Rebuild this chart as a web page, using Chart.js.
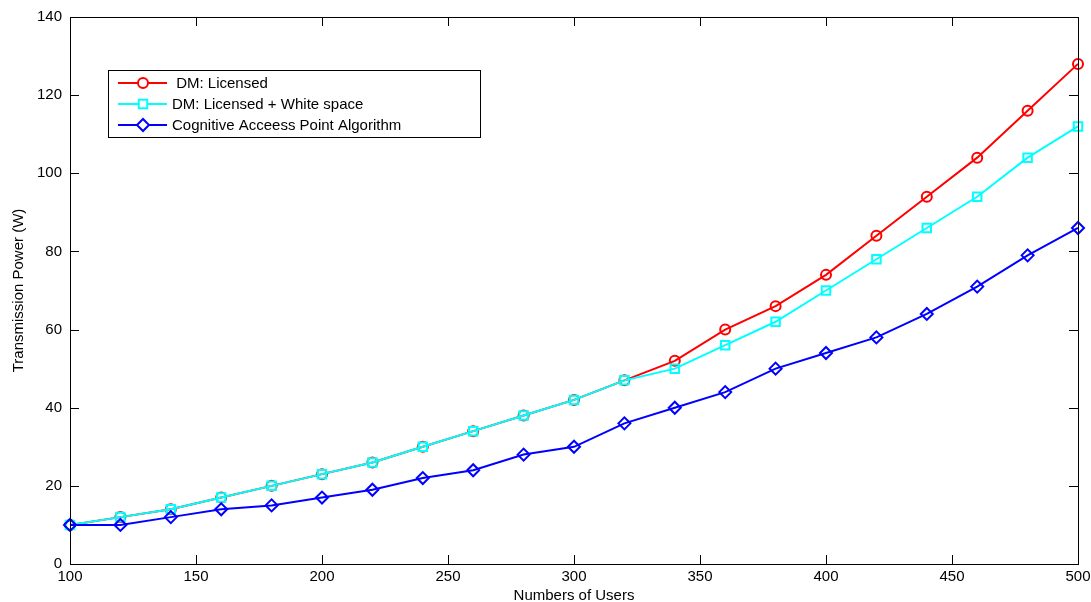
<!DOCTYPE html>
<html>
<head>
<meta charset="utf-8">
<script src="https://cdn.jsdelivr.net/npm/chart.js@4/dist/chart.umd.min.js"></script>
<style>
  html, body { margin: 0; padding: 0; background: #fff; }
  #wrap { width: 1091px; height: 602px; }
</style>
</head>
<body>
<div id="wrap"><canvas id="powerChart"></canvas></div>
<script>
var users = [100, 120, 140, 160, 180, 200, 220, 240, 260, 280, 300, 320, 340, 360, 380, 400, 420, 440, 460, 480, 500];
var licensed = [10, 12, 14, 17, 20, 23, 26, 30, 34, 38, 42, 47, 52, 60, 66, 74, 84, 94, 104, 116, 128];
var licensedWhite = [10, 12, 14, 17, 20, 23, 26, 30, 34, 38, 42, 47, 50, 56, 62, 70, 78, 86, 94, 104, 112];
var cognitive = [10, 10, 12, 14, 15, 17, 19, 22, 24, 28, 30, 36, 40, 44, 50, 54, 58, 64, 71, 79, 86];
var seriesNames = [' DM: Licensed', 'DM: Licensed + White space', 'Cognitive Acceess Point Algorithm'];
var xTicks = [100, 150, 200, 250, 300, 350, 400, 450, 500];
var yTicks = [0, 20, 40, 60, 80, 100, 120, 140];

function pts(vals) {
    return vals.map(function(v, i) { return {x: users[i], y: v}; });
}

var fontFam = '"Liberation Sans", Arial, sans-serif';

// MATLAB style: box, inward ticks on all four sides, legend inside the axes
var matlabBox = {
    id: 'matlabBox',
    afterDraw: function(chart) {
        var ctx = chart.ctx;
        var a = chart.chartArea;
        var xs = chart.scales.x, ys = chart.scales.y;
        ctx.save();
        ctx.strokeStyle = '#000';
        ctx.lineWidth = 1;
        ctx.strokeRect(a.left + 0.5, a.top + 0.5, a.right - a.left, a.bottom - a.top);
        ctx.beginPath();
        xTicks.forEach(function(t) {
            var px = Math.round(xs.getPixelForValue(t)) + 0.5;
            ctx.moveTo(px, a.bottom); ctx.lineTo(px, a.bottom - 9);
            ctx.moveTo(px, a.top); ctx.lineTo(px, a.top + 9);
        });
        yTicks.forEach(function(t) {
            var py = Math.round(ys.getPixelForValue(t)) + 0.5;
            ctx.moveTo(a.left, py); ctx.lineTo(a.left + 9, py);
            ctx.moveTo(a.right, py); ctx.lineTo(a.right - 9, py);
        });
        ctx.stroke();

        // legend
        var lx = 108, ly = 70, lw = 372, lh = 67;
        ctx.fillStyle = '#fff';
        ctx.fillRect(lx, ly, lw, lh);
        ctx.strokeStyle = '#000';
        ctx.strokeRect(lx + 0.5, ly + 0.5, lw, lh);
        ctx.font = '15px ' + fontFam;
        ctx.textBaseline = 'middle';
        chart.data.datasets.forEach(function(ds, i) {
            var cy = ly + 13 + i * 21;
            ctx.strokeStyle = ds.borderColor;
            ctx.lineWidth = 2;
            ctx.beginPath();
            ctx.moveTo(118, cy); ctx.lineTo(167, cy);
            ctx.stroke();
            ctx.fillStyle = '#fff';
            Chart.helpers.drawPoint(ctx, {
                pointStyle: ds.pointStyle, radius: ds.pointRadius, rotation: 0,
                borderWidth: ds.pointBorderWidth
            }, 143, cy);
            ctx.fillStyle = '#000';
            ctx.fillText(ds.label, 172, cy + 1);
        });
        ctx.restore();
    }
};

var ctx = document.getElementById('powerChart').getContext('2d');
var powerChart = new Chart(ctx, {
    type: 'line',
    data: {
        datasets: [
            {
                label: seriesNames[0],
                data: pts(licensed),
                borderColor: '#ff0000',
                backgroundColor: 'rgba(0,0,0,0)',
                borderWidth: 2,
                pointStyle: 'circle',
                pointRadius: 5,
                pointBorderWidth: 2,
                pointBackgroundColor: 'rgba(0,0,0,0)',
                clip: false,
                order: 3
            },
            {
                label: seriesNames[1],
                data: pts(licensedWhite),
                borderColor: '#00ffff',
                backgroundColor: 'rgba(0,0,0,0)',
                borderWidth: 2,
                pointStyle: 'rect',
                pointRadius: 6,
                pointBorderWidth: 2,
                pointBackgroundColor: 'rgba(0,0,0,0)',
                clip: false,
                order: 2
            },
            {
                label: seriesNames[2],
                data: pts(cognitive),
                borderColor: '#0000ff',
                backgroundColor: 'rgba(0,0,0,0)',
                borderWidth: 2,
                pointStyle: 'rectRot',
                pointRadius: 6,
                pointBorderWidth: 2,
                pointBackgroundColor: 'rgba(0,0,0,0)',
                clip: false,
                order: 1
            }
        ]
    },
    options: {
        responsive: true,
        maintainAspectRatio: false,
        animation: false,
        events: [],
        layout: { padding: { left: 10, right: 0, top: 17, bottom: 0 } },
        plugins: {
            legend: { display: false },
            tooltip: { enabled: false }
        },
        scales: {
            x: {
                type: 'linear',
                min: 100,
                max: 500,
                afterFit: function(s) { s.height = 38; s.paddingRight = 13; },
                afterBuildTicks: function(s) { s.ticks = xTicks.map(function(v) { return {value: v}; }); },
                grid: { display: false, drawTicks: false },
                border: { display: false },
                ticks: { color: '#000', font: { family: fontFam, size: 15 }, padding: 4, maxRotation: 0 },
                title: {
                    display: true,
                    text: 'Numbers of Users',
                    color: '#000',
                    font: { family: fontFam, size: 15 },
                    padding: { top: 0, bottom: -3 }
                }
            },
            y: {
                type: 'linear',
                min: 0,
                max: 140,
                afterFit: function(s) { s.width = 60; },
                afterBuildTicks: function(s) { s.ticks = yTicks.map(function(v) { return {value: v}; }); },
                grid: { display: false, drawTicks: false },
                border: { display: false },
                ticks: { color: '#000', font: { family: fontFam, size: 15 }, padding: 8 },
                title: {
                    display: true,
                    text: 'Transmission Power (W)',
                    color: '#000',
                    font: { family: fontFam, size: 15 },
                    padding: { top: 0, bottom: 0 }
                }
            }
        }
    },
    plugins: [matlabBox]
});
</script>
</body>
</html>
